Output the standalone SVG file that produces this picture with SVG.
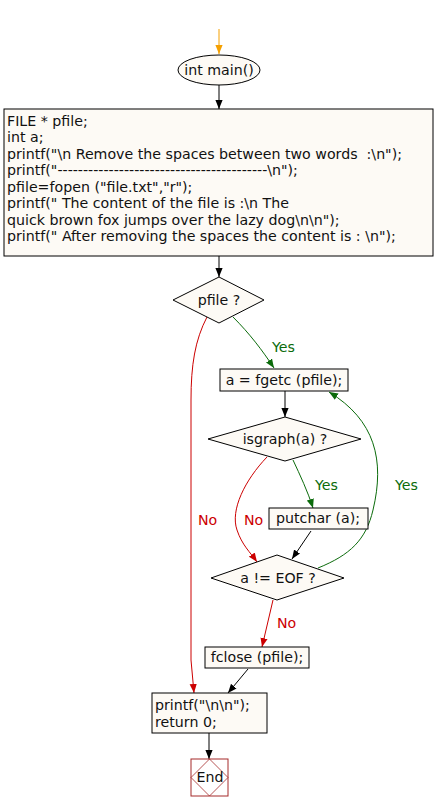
<svg xmlns="http://www.w3.org/2000/svg" width="436" height="812" viewBox="0 0 436 812">
<style>
text{font-family:"DejaVu Sans","Liberation Sans",sans-serif;font-size:14.2px;fill:#111;white-space:pre}
.n{fill:#fdfaf5;stroke:#000;stroke-width:1}
.c{text-anchor:middle}
.e{fill:none;stroke-width:1}
.k{stroke:#000}
.r{stroke:#cc0000}
.g{stroke:#0b6b0b}
.o{stroke:#f5a000}
.lr{fill:#cc0000}
.lg{fill:#0b6b0b}
</style>
<defs>
<marker id="mk" viewBox="0 0 10 8" markerWidth="9" markerHeight="8" refX="10" refY="4" orient="auto" markerUnits="userSpaceOnUse"><path d="M0,0 L10,4 L0,8 z" fill="#000"/></marker>
<marker id="mr" viewBox="0 0 10 8" markerWidth="9" markerHeight="8" refX="10" refY="4" orient="auto" markerUnits="userSpaceOnUse"><path d="M0,0 L10,4 L0,8 z" fill="#cc0000"/></marker>
<marker id="mg" viewBox="0 0 10 8" markerWidth="9" markerHeight="8" refX="10" refY="4" orient="auto" markerUnits="userSpaceOnUse"><path d="M0,0 L10,4 L0,8 z" fill="#0b6b0b"/></marker>
<marker id="mo" viewBox="0 0 10 8" markerWidth="9" markerHeight="8" refX="10" refY="4" orient="auto" markerUnits="userSpaceOnUse"><path d="M0,0 L10,4 L0,8 z" fill="#f5a000"/></marker>
</defs>
<rect width="436" height="812" fill="#fff"/>
<g id="connectors">
<path class="e o" d="M219,29 L219,54" marker-end="url(#mo)"/>
<path class="e k" d="M219,85 L219,109" marker-end="url(#mk)"/>
<path class="e k" d="M219,256 L219,277" marker-end="url(#mk)"/>
<path class="e g" d="M233,317 C250,334 262,350 274,368" marker-end="url(#mg)"/>
<text class="lg" x="272" y="352">Yes</text>
<path class="e k" d="M285,391 L285,417" marker-end="url(#mk)"/>
<path class="e g" d="M293,460 C300,475 308,492 313,508" marker-end="url(#mg)"/>
<text class="lg" x="315" y="490">Yes</text>
<path class="e r" d="M267,457 C245,480 230,510 237,530 C242,545 250,552 257,562" marker-end="url(#mr)"/>
<text class="lr" x="244" y="525">No</text>
<path class="e k" d="M311,531 L292,559" marker-end="url(#mk)"/>
<path class="e g" d="M318,568 C350,555 366,540 373,510 C385,460 375,420 329,392" marker-end="url(#mg)"/>
<text class="lg" x="395" y="490">Yes</text>
<path class="e r" d="M207,317 C195,340 191,365 191,400 L191,660 L194,693" marker-end="url(#mr)"/>
<text class="lr" x="198" y="525">No</text>
<path class="e r" d="M273,600 L262,647" marker-end="url(#mr)"/>
<text class="lr" x="277" y="628">No</text>
<path class="e k" d="M248,669 L228,693" marker-end="url(#mk)"/>
<path class="e k" d="M209,733 L209,759" marker-end="url(#mk)"/>
</g>
<g id="start">
<ellipse class="n" cx="219" cy="70" rx="41" ry="15"/>
<text class="c" x="219" y="75">int main()</text>
</g>
<g id="decl">
<rect class="n" x="4" y="109" width="429" height="147"/>
<text x="7" y="126">FILE * pfile;</text>
<text x="7" y="142">int a;</text>
<text x="7" y="159">printf("\n Remove the spaces between two words  :\n");</text>
<text x="7" y="175">printf("-----------------------------------------\n");</text>
<text x="7" y="192">pfile=fopen ("file.txt","r");</text>
<text x="7" y="208">printf(" The content of the file is :\n The</text>
<text x="7" y="225">quick brown fox jumps over the lazy dog\n\n");</text>
<text x="7" y="241">printf(" After removing the spaces the content is : \n");</text>
</g>
<g id="pfile">
<polygon class="n" points="219,277 264,300 219,323 173,300"/>
<text class="c" x="219" y="305">pfile ?</text>
</g>
<g id="fgetc">
<rect class="n" x="220" y="369" width="128" height="22"/>
<text class="c" x="284" y="385">a = fgetc (pfile);</text>
</g>
<g id="isgraph">
<polygon class="n" points="285,417 361,439 285,461 208,439"/>
<text class="c" x="285" y="444">isgraph(a) ?</text>
</g>
<g id="putchar">
<rect class="n" x="269" y="508" width="99" height="21"/>
<text class="c" x="318" y="523">putchar (a);</text>
</g>
<g id="eof">
<polygon class="n" points="277,555 344,578 277,600 211,578"/>
<text class="c" x="278" y="583">a != EOF ?</text>
</g>
<g id="fclose">
<rect class="n" x="205" y="647" width="104" height="21"/>
<text class="c" x="257" y="662">fclose (pfile);</text>
</g>
<g id="ret">
<rect class="n" x="152" y="693" width="115" height="40"/>
<text x="155" y="710">printf("\n\n");</text>
<text x="155" y="727">return 0;</text>
</g>
<g id="end">
<rect x="191" y="759" width="37" height="37" fill="#fff" stroke="#a52a2a"/>
<polygon points="209.5,759 228,777.5 209.5,796 191,777.5" fill="none" stroke="#a52a2a" stroke-width="0.8"/>
<text class="c" x="210" y="782">End</text>
</g>
</svg>
